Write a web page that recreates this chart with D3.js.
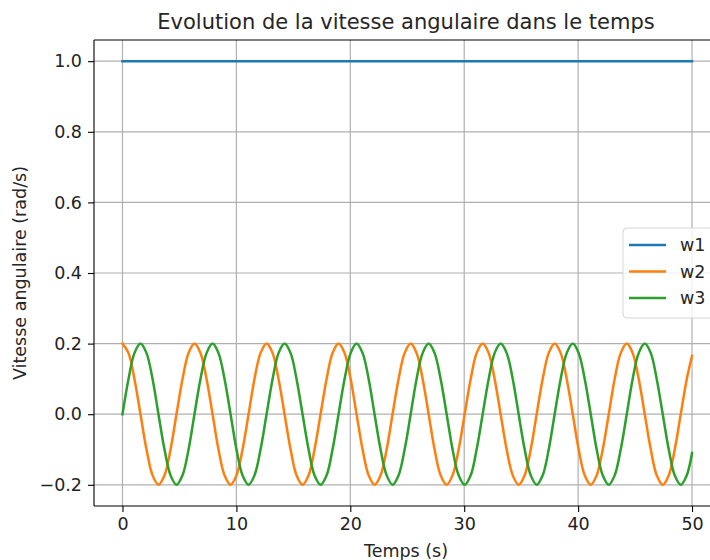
<!DOCTYPE html>
<html>
  <meta charset="utf-8">
  <head>
    <title>Evolution de la vitesse angulaire dans le temps</title>
  </head>
  <style>
    body { margin: 0; background: #fff; }
    text { font-family: "DejaVu Sans", sans-serif; fill: #262626; }
    .grid line { stroke: #b0b0b0; stroke-width: 1.2; }
    .axis path, .axis line { stroke: #000; stroke-width: 1.1; }
    .axis text { font-size: 17.5px; fill: #222; font-family: "DejaVu Sans", sans-serif; }
  </style>
  <script src="https://d3js.org/d3.v7.min.js"></script>
  <body>
    <svg width="710" height="560"></svg>
    <script>
      // temps (s) des points
      var t = [
        0, 0.53, 1.05, 1.58, 2.11, 2.64, 3.16, 3.69, 4.22, 4.74, 5.27, 5.80,
        6.32, 6.85, 7.38, 7.91, 8.43, 8.96, 9.49, 10.01, 10.54, 11.07, 11.59, 12.12,
        12.65, 13.18, 13.70, 14.23, 14.76, 15.28, 15.81, 16.34, 16.86, 17.39, 17.92, 18.44,
        18.97, 19.50, 20.03, 20.55, 21.08, 21.61, 22.13, 22.66, 23.19, 23.71, 24.24, 24.77,
        25.30, 25.82, 26.35, 26.88, 27.40, 27.93, 28.46, 28.98, 29.51, 30.04, 30.57, 31.09,
        31.62, 32.15, 32.67, 33.20, 33.73, 34.26, 34.78, 35.31, 35.84, 36.36, 36.89, 37.42,
        37.94, 38.47, 39.00, 39.53, 40.05, 40.58, 41.11, 41.63, 42.16, 42.69, 43.21, 43.74,
        44.27, 44.79, 45.32, 45.85, 46.38, 46.90, 47.43, 47.96, 48.48, 49.01, 49.54, 50
      ];
      var w2 = [
        0.2, 0.173, 0.1, 0, -0.1, -0.173, -0.2, -0.173, -0.1, 0, 0.1, 0.173,
        0.2, 0.173, 0.1, 0, -0.1, -0.173, -0.2, -0.173, -0.1, 0, 0.1, 0.173,
        0.2, 0.173, 0.1, 0, -0.1, -0.173, -0.2, -0.173, -0.1, 0, 0.1, 0.173,
        0.2, 0.173, 0.1, 0, -0.1, -0.173, -0.2, -0.173, -0.1, 0, 0.1, 0.173,
        0.2, 0.173, 0.1, 0, -0.1, -0.173, -0.2, -0.173, -0.1, 0, 0.1, 0.173,
        0.2, 0.173, 0.1, 0, -0.1, -0.173, -0.2, -0.173, -0.1, 0, 0.1, 0.173,
        0.2, 0.173, 0.1, 0, -0.1, -0.173, -0.2, -0.173, -0.1, 0, 0.1, 0.173,
        0.2, 0.173, 0.1, 0, -0.1, -0.173, -0.2, -0.173, -0.1, 0, 0.1, 0.165
      ];
      var w3 = [
        0, 0.1, 0.173, 0.2, 0.173, 0.1, 0, -0.1, -0.173, -0.2, -0.173, -0.1,
        0, 0.1, 0.173, 0.2, 0.173, 0.1, 0, -0.1, -0.173, -0.2, -0.173, -0.1,
        0, 0.1, 0.173, 0.2, 0.173, 0.1, 0, -0.1, -0.173, -0.2, -0.173, -0.1,
        0, 0.1, 0.173, 0.2, 0.173, 0.1, 0, -0.1, -0.173, -0.2, -0.173, -0.1,
        0, 0.1, 0.173, 0.2, 0.173, 0.1, 0, -0.1, -0.173, -0.2, -0.173, -0.1,
        0, 0.1, 0.173, 0.2, 0.173, 0.1, 0, -0.1, -0.173, -0.2, -0.173, -0.1,
        0, 0.1, 0.173, 0.2, 0.173, 0.1, 0, -0.1, -0.173, -0.2, -0.173, -0.1,
        0, 0.1, 0.173, 0.2, 0.173, 0.1, 0, -0.1, -0.173, -0.2, -0.173, -0.11
      ];
      var t1 = [0, 50];
      var w1 = [1.0, 1.0];

      var xTicks = [0, 10, 20, 30, 40, 50];
      var yTicks = [-0.2, 0.0, 0.2, 0.4, 0.6, 0.8, 1.0];
      var names = ["w1", "w2", "w3"];
      var colors = ["#1f77b4", "#ff7f0e", "#2ca02c"];

      var svg = d3.select("svg");
      var mLeft = 94, mTop = 40, mRight = 720.5, mBottom = 506;

      var x = d3.scaleLinear().domain([-2.5, 52.5]).range([mLeft, mRight]);
      var y = d3.scaleLinear().domain([-0.26, 1.06]).range([mBottom, mTop]);

      // grille
      var grid = svg.append("g").attr("class", "grid");
      grid.selectAll(".gx").data(xTicks).enter().append("line")
          .attr("x1", function(d) { return x(d); }).attr("x2", function(d) { return x(d); })
          .attr("y1", mTop).attr("y2", mBottom);
      grid.selectAll(".gy").data(yTicks).enter().append("line")
          .attr("x1", mLeft).attr("x2", mRight)
          .attr("y1", function(d) { return y(d); }).attr("y2", function(d) { return y(d); });

      // courbes
      var series = [
        d3.zip(t1, w1),
        d3.zip(t, w2),
        d3.zip(t, w3)
      ];
      var line = d3.line()
          .x(function(d) { return x(d[0]); })
          .y(function(d) { return y(d[1]); })
          .curve(d3.curveCatmullRom.alpha(0.5));

      svg.append("g").selectAll("path")
        .data(series)
        .enter().append("path")
          .attr("fill", "none")
          .attr("stroke", function(d, i) { return colors[i]; })
          .attr("stroke-width", 2.5)
          .attr("stroke-linecap", "square")
          .attr("d", line);

      // axes
      svg.append("g")
          .attr("class", "axis")
          .attr("transform", "translate(0," + mBottom + ")")
          .call(d3.axisBottom(x).tickValues(xTicks).tickSize(6).tickPadding(6).tickFormat(d3.format("d")))
        .select(".domain").attr("d", "M" + mLeft + ",0H" + mRight);

      svg.append("g")
          .attr("class", "axis")
          .attr("transform", "translate(" + mLeft + ",0)")
          .call(d3.axisLeft(y).tickValues(yTicks).tickSize(6).tickPadding(6)
            .tickFormat(function(d) { return d3.format(".1f")(d).replace("-", "\u2212"); }))
        .select(".domain").attr("d", "M0," + mBottom + "V" + mTop);

      svg.append("line")
          .attr("x1", mLeft).attr("x2", mRight).attr("y1", mTop).attr("y2", mTop)
          .attr("stroke", "#000").attr("stroke-width", 1.1);

      // titres
      svg.append("text")
          .attr("x", 406).attr("y", 29)
          .attr("text-anchor", "middle")
          .attr("font-size", "21px")
          .text("Evolution de la vitesse angulaire dans le temps");

      svg.append("text")
          .attr("x", 406).attr("y", 557)
          .attr("text-anchor", "middle")
          .attr("font-size", "17.5px")
          .text("Temps (s)");

      svg.append("text")
          .attr("transform", "translate(26," + ((mTop + mBottom) / 2) + ") rotate(-90)")
          .attr("text-anchor", "middle")
          .attr("font-size", "17.5px")
          .text("Vitesse angulaire (rad/s)");

      // légende
      var lg = svg.append("g").attr("transform", "translate(623,228)");
      lg.append("rect")
          .attr("x", 0).attr("y", 0).attr("width", 100).attr("height", 90)
          .attr("rx", 4)
          .attr("fill", "#fff").attr("fill-opacity", 0.8)
          .attr("stroke", "#d5d5d5");
      var item = lg.selectAll(".item").data(names).enter().append("g")
          .attr("transform", function(d, i) { return "translate(0," + (17 + i * 26.5) + ")"; });
      item.append("line")
          .attr("x1", 6).attr("x2", 43)
          .attr("stroke", function(d, i) { return colors[i]; })
          .attr("stroke-width", 2.5);
      item.append("text")
          .attr("x", 57).attr("y", 6)
          .attr("font-size", "17.5px")
          .text(function(d) { return d; });
    </script>
  </body>
</html>
